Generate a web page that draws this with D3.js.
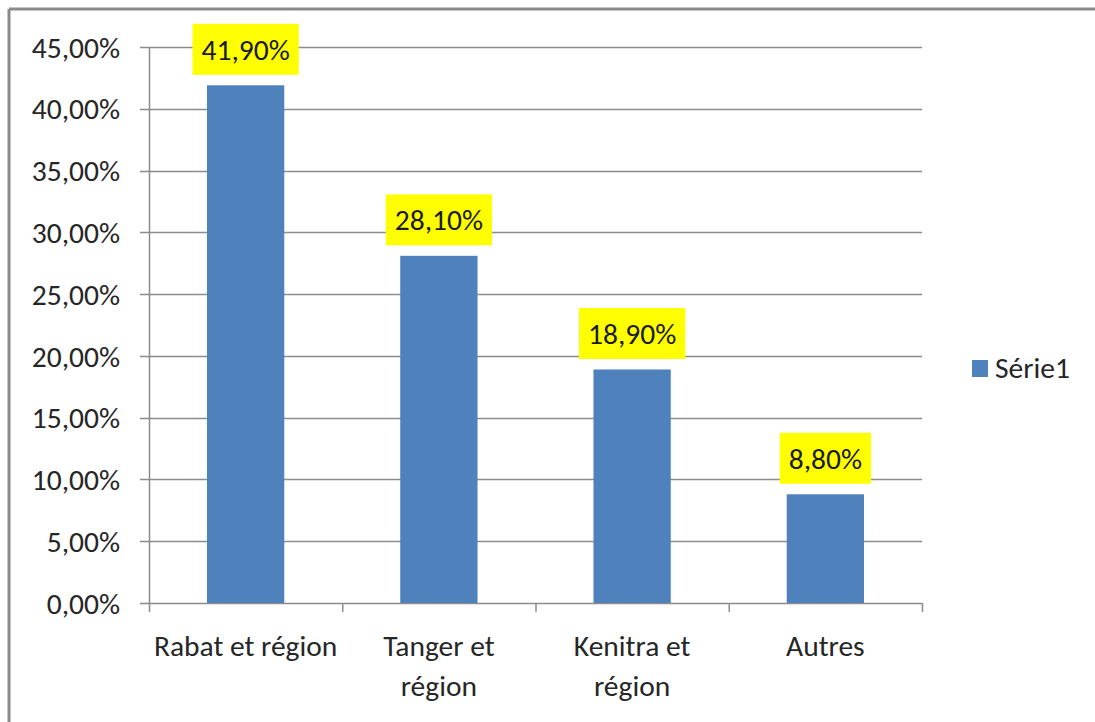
<!DOCTYPE html>
<html>
<head>
<meta charset="utf-8">
<script src="https://cdn.jsdelivr.net/npm/d3@7"></script>
<style>
  body { margin: 0; background: #fff; }
  svg text { font-family: Carlito, Calibri, "Liberation Sans", sans-serif; fill: #262626; }
</style>
</head>
<body>
<svg id="chart" width="1095" height="722"></svg>
<script>
const categories = [["Rabat et région"], ["Tanger et", "région"], ["Kenitra et", "région"], ["Autres"]];
const values = [0.419, 0.281, 0.189, 0.088];
const labels = ["41,90%", "28,10%", "18,90%", "8,80%"];
const yTicks = [0, 0.05, 0.10, 0.15, 0.20, 0.25, 0.30, 0.35, 0.40, 0.45];
const seriesName = "Série1";

const svg = d3.select('#chart');
const fmt = v => d3.format('.2f')(v * 100).replace('.', ',') + '%';
const fontSize = 29.5;

// chart frame
svg.append('line').attr('x1', 9).attr('x2', 1095).attr('y1', 9).attr('y2', 9)
  .attr('stroke', '#8a8a8a').attr('stroke-width', 3);
svg.append('line').attr('x1', 9).attr('x2', 9).attr('y1', 9).attr('y2', 722)
  .attr('stroke', '#8a8a8a').attr('stroke-width', 3);

const plotLeft = 149, plotRight = 922, plotTop = 47, plotBottom = 603;

const x = d3.scaleBand().domain(d3.range(values.length)).range([plotLeft, plotRight])
  .paddingInner(0.6).paddingOuter(0.3);
const y = d3.scaleLinear().domain([0, 0.45]).range([plotBottom, plotTop]);

// gridlines
svg.append('g').selectAll('line').data(yTicks).join('line')
  .attr('x1', plotLeft - 9).attr('x2', plotRight)
  .attr('y1', d => Math.round(y(d)) + 0.5).attr('y2', d => Math.round(y(d)) + 0.5)
  .attr('stroke', '#8c8c8c').attr('stroke-width', 1.5);

// y tick labels
svg.append('g').selectAll('text').data(yTicks).join('text')
  .attr('x', 120).attr('y', d => y(d)).attr('dy', '0.36em')
  .attr('text-anchor', 'end').attr('font-size', fontSize)
  .text(fmt);

// y axis line
svg.append('line').attr('x1', plotLeft + 0.5).attr('x2', plotLeft + 0.5)
  .attr('y1', plotTop).attr('y2', plotBottom)
  .attr('stroke', '#8c8c8c').attr('stroke-width', 1.5);

// x category ticks
const catW = (plotRight - plotLeft) / values.length;
svg.append('g').selectAll('line').data(d3.range(values.length + 1)).join('line')
  .attr('x1', i => plotLeft + i * catW + 0.5)
  .attr('x2', i => plotLeft + i * catW + 0.5)
  .attr('y1', plotBottom).attr('y2', plotBottom + 9)
  .attr('stroke', '#8c8c8c').attr('stroke-width', 1.5);

// bars
svg.append('g').selectAll('rect').data(values).join('rect')
  .attr('x', (d, i) => x(i)).attr('width', x.bandwidth())
  .attr('y', d => y(d)).attr('height', d => plotBottom - y(d))
  .attr('fill', '#4f81bd');

// data labels
const lab = svg.append('g').selectAll('g').data(values).join('g');
lab.each(function(d, i) {
  const g = d3.select(this);
  const cx = x(i) + x.bandwidth() / 2;
  const cy = y(d) - 36;
  const rect = g.append('rect').attr('fill', '#ffff00');
  const t = g.append('text').attr('x', cx).attr('y', cy).attr('dy', '0.36em')
    .attr('text-anchor', 'middle').attr('font-size', fontSize).style('fill', '#1a1a1a')
    .text(labels[i]);
  const w = t.node().getComputedTextLength() + 18;
  rect.attr('x', cx - w / 2).attr('width', w).attr('y', cy - 25.5).attr('height', 51);
});

// x category labels
const xl = svg.append('g').selectAll('text').data(categories).join('text')
  .attr('text-anchor', 'middle').attr('font-size', fontSize)
  .attr('x', (d, i) => x(i) + x.bandwidth() / 2).attr('y', 656);
xl.selectAll('tspan').data(d => d).join('tspan')
  .attr('x', function() { return this.parentNode.getAttribute('x'); })
  .attr('dy', (d, j) => j === 0 ? 0 : 40)
  .text(d => d);

// legend
svg.append('rect').attr('x', 972).attr('y', 360).attr('width', 16).attr('height', 17).attr('fill', '#4f81bd');
svg.append('text').attr('x', 995).attr('y', 378).attr('font-size', fontSize).text(seriesName);
</script>
</body>
</html>
